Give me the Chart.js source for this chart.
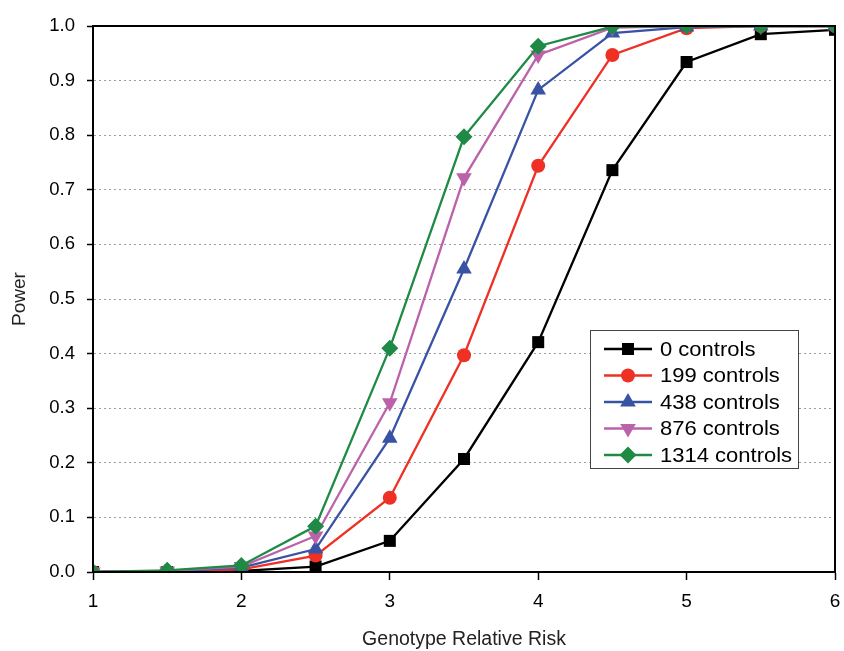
<!DOCTYPE html>
<html>
<head>
<meta charset="utf-8">
<script src="https://cdn.jsdelivr.net/npm/chart.js@4/dist/chart.umd.min.js"></script>
<style>
  html, body { margin: 0; padding: 0; background: #fff; }
  #wrap { width: 844px; height: 651px; }
</style>
</head>
<body>
<div id="wrap"><canvas id="powerChart" width="844" height="651"></canvas></div>
<script>
// x values: genotype relative risk
const relRisk = [1, 1.5, 2, 2.5, 3, 3.5, 4, 4.5, 5, 5.5, 6];

// power for each number of controls
const controls0    = [0, 0, 0.002, 0.010, 0.057, 0.207, 0.421, 0.736, 0.934, 0.985, 0.993];
const controls199  = [0, 0, 0.005, 0.030, 0.136, 0.397, 0.744, 0.947, 0.996, 1.0, 1.0];
const controls438  = [0, 0.001, 0.008, 0.042, 0.245, 0.555, 0.883, 0.987, 0.998, 1.0, 1.0];
const controls876  = [0, 0.002, 0.010, 0.066, 0.310, 0.722, 0.947, 0.997, 1.0, 1.0, 1.0];
const controls1314 = [0, 0.003, 0.012, 0.084, 0.410, 0.797, 0.963, 0.999, 1.0, 1.0, 1.0];

const seriesLabels = ["0 controls", "199 controls", "438 controls", "876 controls", "1314 controls"];
const seriesData = [controls0, controls199, controls438, controls876, controls1314];
const seriesColors = ["#000000", "#ee3124", "#3953a4", "#bb62aa", "#1f8a45"];
const seriesPoints = ["rect", "circle", "triangle", "triangle", "rectRot"];
const seriesRadius = [8.5, 7, 9, 9, 8.5];
const seriesRotation = [0, 0, 0, 180, 0];

const yTicks = [0, 0.1, 0.2, 0.3, 0.4, 0.5, 0.6, 0.7, 0.8, 0.9, 1.0];

const FONT = "'Liberation Sans', Arial, sans-serif";

const datasets = seriesLabels.map((label, i) => ({
  label: label,
  data: relRisk.map((x, j) => ({ x: x, y: seriesData[i][j] })),
  borderColor: seriesColors[i],
  backgroundColor: seriesColors[i],
  pointBackgroundColor: seriesColors[i],
  pointBorderColor: seriesColors[i],
  pointStyle: seriesPoints[i],
  pointRadius: seriesRadius[i],
  pointRotation: seriesRotation[i],
  pointBorderWidth: 0,
  borderWidth: 2.3,
  tension: 0,
  order: seriesLabels.length - i,
}));

// frame around the plot area
const framePlugin = {
  id: "frame",
  afterDraw(chart) {
    const a = chart.chartArea;
    const c = chart.ctx;
    c.save();
    c.strokeStyle = "#000";
    c.lineWidth = 2;
    c.strokeRect(a.left, a.top, a.right - a.left, a.bottom - a.top);
    c.restore();
  },
};

// legend box inside the plot
const boxLegend = {
  id: "boxLegend",
  afterDraw(chart) {
    const c = chart.ctx;
    const left = 590, top = 330, w = 208, h = 138;
    c.save();
    c.fillStyle = "#fff";
    c.fillRect(left, top, w, h);
    c.strokeStyle = "#444";
    c.lineWidth = 1;
    c.strokeRect(left + 0.5, top + 0.5, w, h);
    c.font = "20px " + FONT;
    c.textBaseline = "middle";
    chart.data.datasets.forEach((ds, i) => {
      const y = top + 19 + i * 26.5;
      c.strokeStyle = ds.borderColor;
      c.fillStyle = ds.borderColor;
      c.lineWidth = 2.3;
      c.beginPath();
      c.moveTo(left + 14, y);
      c.lineTo(left + 62, y);
      c.stroke();
      Chart.helpers.drawPoint(c, {
        pointStyle: ds.pointStyle,
        radius: ds.pointRadius,
        rotation: ds.pointRotation,
        borderWidth: 0,
      }, left + 38, y);
      c.fillStyle = "#000";
      c.save();
      c.translate(left + 70, y + 1);
      c.scale(1.1, 1);
      c.fillText(ds.label, 0, 0);
      c.restore();
    });
    c.restore();
  },
};

new Chart(document.getElementById("powerChart"), {
  type: "line",
  data: { datasets: datasets },
  options: {
    responsive: false,
    animation: false,
    layout: { padding: { left: 0, top: 26, right: 0, bottom: 0 } },
    plugins: {
      legend: { display: false },
      tooltip: { enabled: false },
    },
    scales: {
      x: {
        type: "linear",
        min: 1,
        max: 6,
        afterFit: (s) => { s.height = 79; s.paddingRight = 8; },
        afterBuildTicks: (s) => { s.ticks = relRisk.filter((v) => Number.isInteger(v)).map((v) => ({ value: v })); },
        grid: {
          drawOnChartArea: false,
          drawTicks: true,
          tickLength: 8,
          tickColor: "#000",
          tickWidth: 1.5,
        },
        border: { display: true, color: "#000", width: 2 },
        ticks: {
          color: "#000",
          font: { family: FONT, size: 19 },
          padding: 10,
          callback: (v) => String(v),
        },
        title: {
          display: true,
          text: "Genotype Relative Risk",
          color: "#222",
          font: { family: FONT, size: 19.5 },
          padding: { top: 4, bottom: 0 },
        },
      },
      y: {
        type: "linear",
        min: 0,
        max: 1,
        afterFit: (s) => { s.width = 93; },
        afterBuildTicks: (s) => { s.ticks = yTicks.map((v) => ({ value: v })); },
        grid: {
          drawOnChartArea: true,
          color: (ctx) => (ctx.tick && (ctx.tick.value === 0 || ctx.tick.value === 1) ? "rgba(0,0,0,0)" : "#9aa0a0"),
          lineWidth: 1,
          tickLength: 6,
          tickColor: "#000",
          tickWidth: 1.5,
          tickBorderDash: [],
        },
        border: { display: true, color: "#000", width: 2, dash: [2, 3] },
        ticks: {
          color: "#000",
          font: { family: FONT, size: 18.5 },
          padding: 12,
          callback: (v) => Number(v).toFixed(1),
        },
        title: {
          display: true,
          text: "Power",
          color: "#222",
          font: { family: FONT, size: 19 },
          padding: { top: 8, bottom: 2 },
        },
      },
    },
  },
  plugins: [framePlugin, boxLegend],
});
</script>
</body>
</html>
